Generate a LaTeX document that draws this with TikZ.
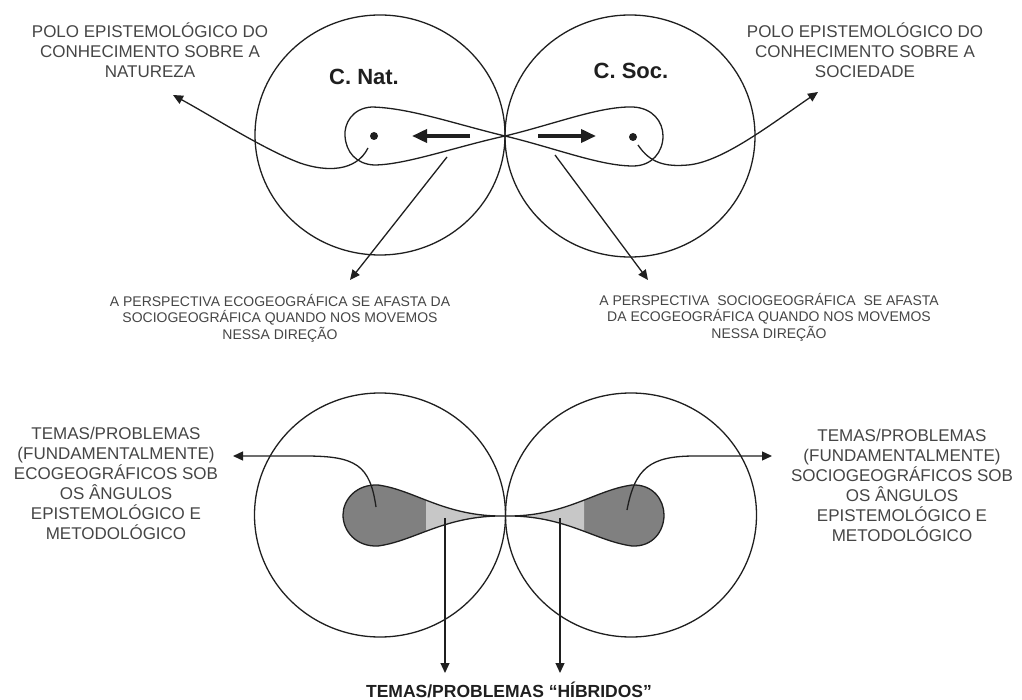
\documentclass[tikz,border=0pt]{standalone}
\usepackage{fontspec}
\setmainfont{Liberation Sans}
\usetikzlibrary{arrows.meta}
\definecolor{ink}{gray}{0.12}
\definecolor{txt}{gray}{0.27}
\definecolor{darkfill}{gray}{0.5}
\definecolor{lightfill}{gray}{0.78}
\begin{document}
\begin{tikzpicture}[x=1pt,y=-1pt,
  lab/.style={font=\fontsize{17}{20}\selectfont, text=txt, align=center, inner sep=0pt},
  smlab/.style={font=\fontsize{14}{16.5}\selectfont, text=txt, align=center, inner sep=0pt},
  ttl/.style={font=\fontsize{22}{24}\selectfont\bfseries, text=ink, inner sep=0pt, anchor=base},
  ring/.style={draw=ink, line width=1.3pt},
  loopline/.style={draw=ink, line width=1.3pt},
  ptr/.style={draw=ink, line width=1.3pt, -{Triangle[length=10pt,width=9pt]}},
  big/.style={draw=ink, line width=3.6pt, -{Triangle[length=15pt,width=13pt]}}]
\useasboundingbox (0,0) rectangle (1022,700);

% ---------- top part ----------
\draw[ring] (380,135) ellipse [x radius=125pt, y radius=120pt];
\draw[ring] (630,136) ellipse [x radius=125pt, y radius=121pt];

\node[ttl] (cnat) at (364,85) {C. Nat.};
\node[ttl] (csoc) at (631,79) {C. Soc.};

\coordinate (dotL) at (374,136);
\coordinate (dotR) at (633,137);
\fill[ink] (dotL) circle (4pt);
\fill[ink] (dotR) circle (4pt);

\draw[loopline] (505,136) .. controls (455,124) and (410,108) .. (372,107)
  .. controls (352,108) and (344,124) .. (345,136)
  .. controls (346,152) and (356,164) .. (374,165)
  .. controls (405,165) and (455,147) .. (505,136);
\draw[loopline] (505,136) .. controls (555,124) and (600,106) .. (633,107)
  .. controls (653,108) and (663,122) .. (663,136)
  .. controls (663,152) and (652,166) .. (633,166)
  .. controls (600,166) and (555,148) .. (505,136);

\coordinate (bigLs) at (470,136);
\coordinate (bigLe) at (412,136);
\coordinate (bigRs) at (538,136);
\coordinate (bigRe) at (596,136);
\draw[big] (bigLs) -- (bigLe);
\draw[big] (bigRs) -- (bigRe);

\node[lab] (poloN) at (150,50) {POLO EPISTEMOLÓGICO DO\\CONHECIMENTO SOBRE A\\NATUREZA};
\node[lab] (poloS) at (865,50) {POLO EPISTEMOLÓGICO DO\\CONHECIMENTO SOBRE A\\SOCIEDADE};
\coordinate (pLs) at (368,148);
\coordinate (pLe) at (173,95);
\coordinate (pRs) at (638,145);
\coordinate (pRe) at (818,92);
\draw[ptr] (pLs) .. controls (356,172) and (326,172) .. (300,163)
  .. controls (265,150) and (215,118) .. (pLe);
\draw[ptr] (pRs) .. controls (650,163) and (665,167) .. (688,165)
  .. controls (722,162) and (770,125) .. (pRe);

\node[smlab] (ecoT) at (280,318) {A PERSPECTIVA ECOGEOGRÁFICA SE AFASTA DA\\SOCIOGEOGRÁFICA QUANDO NOS MOVEMOS\\NESSA DIREÇÃO};
\node[smlab] (socT) at (769,317) {A PERSPECTIVA\ \ SOCIOGEOGRÁFICA\ \ SE AFASTA\\DA ECOGEOGRÁFICA QUANDO NOS MOVEMOS\\NESSA DIREÇÃO};
\coordinate (qLs) at (447,157);
\coordinate (qLe) at (350,280);
\coordinate (qRs) at (555,155);
\coordinate (qRe) at (648,280);
\draw[ptr] (qLs) -- (qLe);
\draw[ptr] (qRs) -- (qRe);

% ---------- bottom part ----------
\def\leftdrop{(505,516) .. controls (445,517) and (415,490) .. (378,485)
  .. controls (356,484) and (343,500) .. (343,515)
  .. controls (343,531) and (356,547) .. (378,546)
  .. controls (415,541) and (445,515) .. (505,516) -- cycle}
\def\rightdrop{(505,516) .. controls (565,517) and (595,490) .. (632,485)
  .. controls (653,484) and (664,500) .. (664,515)
  .. controls (664,531) and (653,547) .. (632,546)
  .. controls (595,541) and (565,515) .. (505,516) -- cycle}

\fill[darkfill] \leftdrop;
\fill[darkfill] \rightdrop;
\begin{scope}
  \clip (426,470) rectangle (584,560);
  \fill[lightfill] \leftdrop;
  \fill[lightfill] \rightdrop;
\end{scope}
\draw[loopline] \leftdrop;
\draw[loopline] \rightdrop;

\draw[ring] (380,515) ellipse [x radius=125.5pt, y radius=122pt];
\draw[ring] (631,515) ellipse [x radius=125.5pt, y radius=122pt];

\node[lab] (ecoB) at (116,483) {TEMAS/PROBLEMAS\\(FUNDAMENTALMENTE)\\ECOGEOGRÁFICOS SOB\\OS ÂNGULOS\\EPISTEMOLÓGICO E\\METODOLÓGICO};
\node[lab] (socB) at (902,485) {TEMAS/PROBLEMAS\\(FUNDAMENTALMENTE)\\SOCIOGEOGRÁFICOS SOB\\OS ÂNGULOS\\EPISTEMOLÓGICO E\\METODOLÓGICO};
\node[font=\fontsize{17.5}{20}\selectfont\bfseries, text=ink, inner sep=0pt, anchor=base] (hib) at (509,697) {TEMAS/PROBLEMAS “HÍBRIDOS”};

\coordinate (bLs) at (376,507);
\coordinate (bLe) at (233,456);
\coordinate (bRs) at (627,510);
\coordinate (bRe) at (772,456);
\draw[ptr] (bLs) .. controls (370,465) and (356,456) .. (305,456) -- (bLe);
\draw[ptr] (bRs) .. controls (635,468) and (650,456) .. (695,456) -- (bRe);

\coordinate (hLs) at (445,518);
\coordinate (hRs) at (560,518);
\draw[ptr] (hLs) -- (hLs |- 0,673);
\draw[ptr] (hRs) -- (hRs |- 0,673);
\end{tikzpicture}
\end{document}
